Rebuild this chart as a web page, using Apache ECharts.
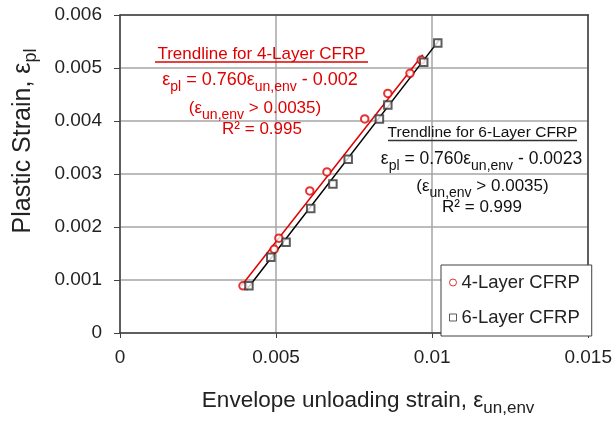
<!DOCTYPE html>
<html>
<head>
<meta charset="utf-8">
<script src="https://cdn.jsdelivr.net/npm/echarts@6/dist/echarts.min.js"></script>
<style>
  html, body { margin: 0; padding: 0; background: #fff; }
  #chart { width: 615px; height: 423px; }
</style>
</head>
<body>
<div id="chart"></div>
<script>
// 4-Layer CFRP measured points
var x4 = [0.00394, 0.00494, 0.00509, 0.00608, 0.00663, 0.00784, 0.00858, 0.00929, 0.00965];
var y4 = [0.00089, 0.00158, 0.00179, 0.00268, 0.00304, 0.00404, 0.00452, 0.00490, 0.00515];
// 6-Layer CFRP measured points
var x6 = [0.00413, 0.00483, 0.00532, 0.00611, 0.00682, 0.00731, 0.00831, 0.00858, 0.00973, 0.01018];
var y6 = [0.00089, 0.00143, 0.00171, 0.00235, 0.00281, 0.00328, 0.00404, 0.00430, 0.00511, 0.00547];
// trendline end points
var trend4X = [0.00389, 0.0097];
var trend4Y = [0.00089, 0.00525];
var trend6X = [0.00405, 0.01023];
var trend6Y = [0.00081, 0.00553];

var xTicks = [0, 0.005, 0.01, 0.015];
var yTicks = [0, 0.001, 0.002, 0.003, 0.004, 0.005, 0.006];

function pairs(xs, ys) {
    return xs.map(function (x, i) { return [x, ys[i]]; });
}

var RED = '#e00000';
var FONT = '"Liberation Sans", Arial, sans-serif';

// rich styles for axis names (echarts option style)
function richAxis(color, size, sub) {
    return {
        n: { fontFamily: FONT, fontSize: size, lineHeight: size + 1, color: color, padding: [0, 0, 5, 0] },
        s: { fontFamily: FONT, fontSize: sub, lineHeight: sub, color: color, padding: [10, 0, 0, 0] }
    };
}

// rich styles for graphic texts (zrender style uses fill)
function richFor(color, size, sub) {
    return {
        t: { fontFamily: FONT, fontSize: size, lineHeight: size + 1, fill: color },
        n: { fontFamily: FONT, fontSize: size, lineHeight: size + 1, fill: color, padding: [0, 0, 5, 0] },
        s: { fontFamily: FONT, fontSize: sub, lineHeight: sub, fill: color, padding: [10, 0, 0, 0] }
    };
}

function label(x, y, text, color, size, sub) {
    return {
        type: 'text', x: x, y: y, z: 50,
        style: {
            text: text, rich: richFor(color, size, sub), fill: color,
            align: 'center', verticalAlign: 'middle'
        }
    };
}

var chart = echarts.init(document.getElementById('chart'));
chart.setOption({
    backgroundColor: '#fff',
    animation: false,
    grid: { left: 120, right: 26, top: 15, bottom: 90 },
    legend: {
        orient: 'vertical',
        left: 441, top: 265,
        padding: [8, 12, 9, 8],
        itemGap: 16,
        itemWidth: 7, itemHeight: 7,
        backgroundColor: '#fff',
        borderColor: '#404040', borderWidth: 1,
        textStyle: { fontFamily: FONT, fontSize: 18.5, lineHeight: 17, color: '#222' },
        data: [
            { name: '4-Layer CFRP', icon: 'circle', itemStyle: { color: '#fff', borderColor: RED, borderWidth: 1 } },
            { name: '6-Layer CFRP', icon: 'rect', itemStyle: { color: '#fff', borderColor: '#333', borderWidth: 1 } }
        ]
    },
    xAxis: [{
        type: 'value',
        min: xTicks[0], max: xTicks[xTicks.length - 1], interval: 0.005,
        name: '{n|Envelope unloading strain, ε}{s|un,env}',
        nameLocation: 'middle', nameGap: 59,
        nameTextStyle: { rich: richAxis('#222', 22.5, 17), padding: [0, 0, 0, 28] },
        axisLine: { show: true, onZero: false, lineStyle: { color: '#404040', width: 1.5 } },
        axisTick: { show: true, length: 5, lineStyle: { color: '#404040' } },
        axisLabel: { fontFamily: FONT, fontSize: 19, color: '#222', margin: 15 },
        splitLine: { show: true, lineStyle: { color: '#a6a6a6', width: 1.5 } }
    }, {
        type: 'value', position: 'top',
        min: xTicks[0], max: xTicks[xTicks.length - 1], interval: 0.005,
        axisLine: { show: true, onZero: false, lineStyle: { color: '#404040', width: 1.5 } },
        axisTick: { show: false }, axisLabel: { show: false }, splitLine: { show: false }
    }],
    yAxis: [{
        type: 'value',
        min: yTicks[0], max: yTicks[yTicks.length - 1], interval: 0.001,
        name: '{n|Plastic Strain, ε}{s|pl}',
        nameLocation: 'middle', nameGap: 81,
        nameTextStyle: { rich: richAxis('#222', 25, 18), padding: [0, 0, 0, 66] },
        axisLine: { show: true, onZero: false, lineStyle: { color: '#404040', width: 1.5 } },
        axisTick: { show: true, length: 6, lineStyle: { color: '#404040' } },
        axisLabel: { fontFamily: FONT, fontSize: 19, color: '#222', margin: 18 },
        splitLine: { show: true, lineStyle: { color: '#a6a6a6', width: 1.5 } }
    }, {
        type: 'value', position: 'right',
        min: yTicks[0], max: yTicks[yTicks.length - 1], interval: 0.001,
        axisLine: { show: true, onZero: false, lineStyle: { color: '#404040', width: 1.5 } },
        axisTick: { show: false }, axisLabel: { show: false }, splitLine: { show: false }
    }],
    graphic: [
        label(261.5, 54, '{t|Trendline for 4-Layer CFRP}', RED, 17, 13),
        { type: 'line', z: 50, shape: { x1: 155, y1: 62, x2: 368, y2: 62 }, style: { stroke: RED, lineWidth: 1.5 } },
        label(260, 82.5, '{n|ε}{s|pl}{n| = 0.760ε}{s|un,env}{n| - 0.002}', RED, 18, 14),
        label(255, 110.5, '{n|(ε}{s|un,env}{n| > 0.0035)}', RED, 17, 14),
        label(262, 129, '{t|R² = 0.995}', RED, 17, 13),

        label(482.5, 133, '{t|Trendline for 6-Layer CFRP}', '#111', 15.5, 13),
        { type: 'line', z: 50, shape: { x1: 388, y1: 140.5, x2: 577, y2: 140.5 }, style: { stroke: '#333', lineWidth: 1.5 } },
        label(481.5, 161.5, '{n|ε}{s|pl}{n| = 0.760ε}{s|un,env}{n| - 0.0023}', '#111', 17.5, 14),
        label(482.5, 188.5, '{n|(ε}{s|un,env}{n| > 0.0035)}', '#111', 17, 14),
        label(482, 207, '{t|R² = 0.999}', '#111', 17, 13)
    ],
    series: [
        {
            name: '4-Layer trend', type: 'line', xAxisIndex: 0, yAxisIndex: 0,
            data: pairs(trend4X, trend4Y), showSymbol: false, silent: true, z: 3,
            lineStyle: { color: RED, width: 1.5 }
        },
        {
            name: '6-Layer trend', type: 'line', xAxisIndex: 0, yAxisIndex: 0,
            data: pairs(trend6X, trend6Y), showSymbol: false, silent: true, z: 3,
            lineStyle: { color: '#000', width: 1.5 }
        },
        {
            name: '4-Layer CFRP', type: 'scatter', xAxisIndex: 0, yAxisIndex: 0,
            data: pairs(x4, y4), symbol: 'emptyCircle', symbolSize: 7.5, z: 5,
            itemStyle: { color: RED, borderWidth: 1 }
        },
        {
            name: '6-Layer CFRP', type: 'scatter', xAxisIndex: 0, yAxisIndex: 0,
            data: pairs(x6, y6), symbol: 'emptyRect', symbolSize: 7.5, z: 5,
            itemStyle: { color: '#333', borderWidth: 1 }
        }
    ]
});
</script>
</body>
</html>
